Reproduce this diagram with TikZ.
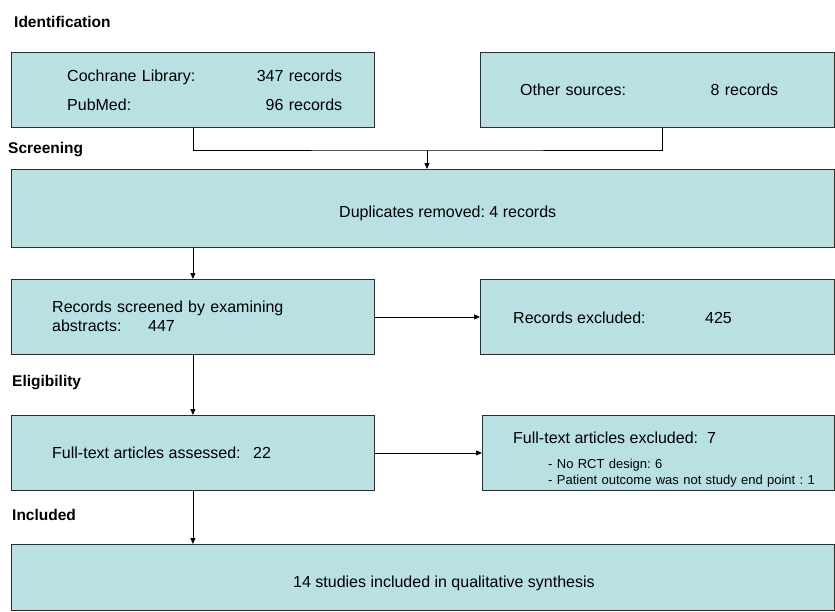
\documentclass[tikz,border=0pt]{standalone}
\usepackage{fontspec}
\setmainfont{Liberation Sans}
\usepackage{tikz}
\usetikzlibrary{positioning, arrows.meta}

\definecolor{boxfill}{RGB}{185,224,227}
\definecolor{boxline}{RGB}{45,45,45}
\frenchspacing

\begin{document}
\begin{tikzpicture}[
    x=1pt, y=-1pt,
    box/.style={draw=boxline, line width=0.9pt, fill=boxfill, anchor=north west, inner sep=0pt},
    stage/.style={anchor=base west, inner sep=0pt, font=\bfseries\fontsize{15.5}{18}\selectfont},
    txt/.style={anchor=base west, inner sep=0pt, align=left, font=\fontsize{16}{19}\selectfont},
    small/.style={anchor=base west, inner sep=0pt, align=left, font=\fontsize{13}{16}\selectfont},
    arr/.style={-{Triangle[length=6pt, width=5pt]}, line width=0.8pt},
    link/.style={line width=0.8pt},
  ]
  \useasboundingbox (0,0) rectangle (835,611);

  % stage labels
  \node[stage] (lident) at (14,27) {Identification};
  \node[stage] (lscreen) at (8,153) {Screening};
  \node[stage] (lelig) at (12,386) {Eligibility};
  \node[stage] (lincl) at (12,520) {Included};

  % boxes
  \node[box, minimum width=363pt, minimum height=75pt] (srcdb) at (11,52) {};
  \node[box, minimum width=354pt, minimum height=75pt] (srcother) at (480,52) {};
  \node[box, minimum width=823pt, minimum height=78pt] (dupl) at (11,169) {};
  \node[box, minimum width=363pt, minimum height=75pt] (screened) at (11,279) {};
  \node[box, minimum width=354pt, minimum height=75pt] (excl1) at (480,279) {};
  \node[box, minimum width=363pt, minimum height=75pt] (fulltext) at (11,415) {};
  \node[box, minimum width=352pt, minimum height=75pt] (excl2) at (482,415) {};
  \node[box, minimum width=823pt, minimum height=66pt] (incl) at (11,544) {};

  % box texts
  \node[txt, text width=275pt, font=\fontsize{16}{29}\selectfont] (tdb) at (67,81)
    {Cochrane Library:\hfill 347 records\\PubMed:\hfill 96 records};
  \node[txt, text width=258pt] (tother) at (520,95) {Other sources:\hfill 8 records};
  \node[txt] (tdupl) at (339,217) {Duplicates removed: 4 records};
  \node[txt, text width=240pt] (tscreen) at (52,312)
    {Records screened by examining\\\makebox[96pt][l]{abstracts:}447};
  \node[txt] (texcl1) at (513,323) {\makebox[192pt][l]{Records excluded:}425};
  \node[txt] (tfull) at (52,458) {\makebox[201pt][l]{Full-text articles assessed:}22};
  \node[txt] (texcl2) at (513,443) {Full-text articles excluded:~~7};
  \node[small, text width=285pt] (texcl2b) at (548,468)
    {- No RCT design: 6\\- Patient outcome was not study end point : 1};
  \node[txt] (tincl) at (293,587) {14 studies included in qualitative synthesis};

  % connectors
  \coordinate (merge) at (427,150);
  \draw[link] (srcdb.south) |- (merge) -| ([xshift=5pt]srcother.south);
  \draw[arr] (merge) -- (merge |- dupl.north);
  \draw[arr] (dupl.south -| screened.north) -- (screened.north);
  \draw[arr] (screened) -- (excl1);
  \draw[arr] (screened.south) -- (fulltext.north);
  \draw[arr] (fulltext) -- (excl2);
  \draw[arr] (fulltext.south) -- (incl.north -| fulltext.south);
\end{tikzpicture}
\end{document}
